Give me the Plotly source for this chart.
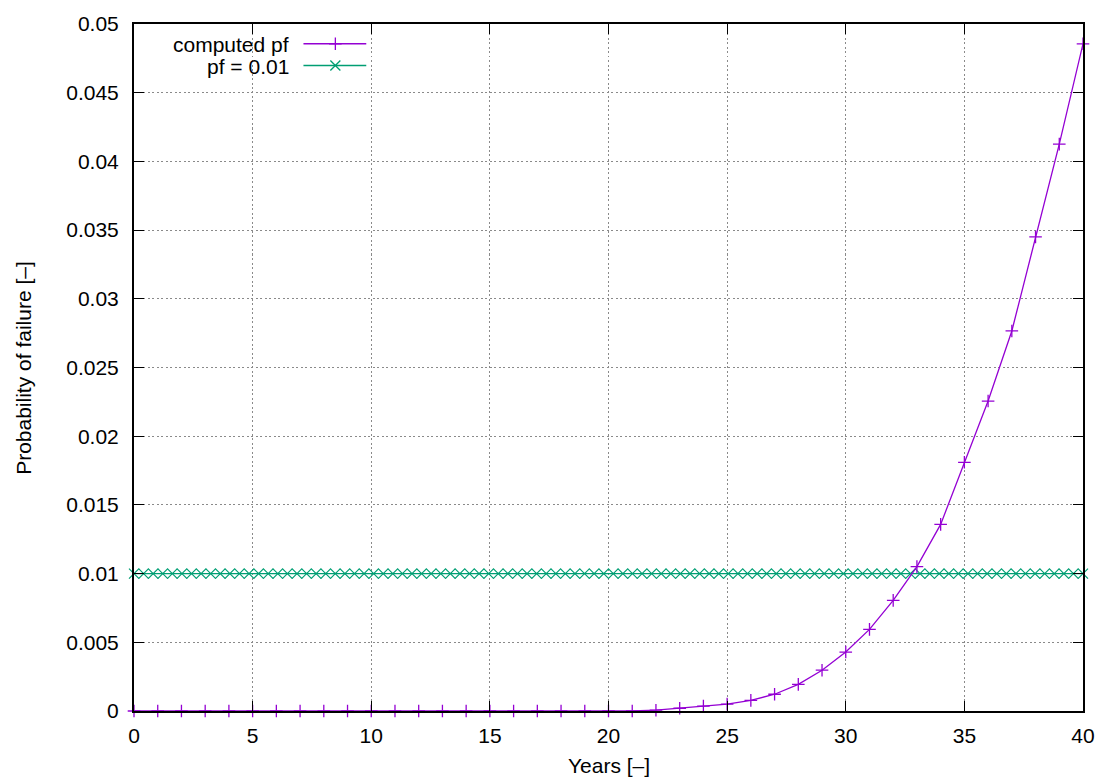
import plotly.graph_objects as go

# ---- data ----
years = list(range(0, 41))
computed_pf = [0.0] * 22 + [
    0.00006, 0.0002, 0.00036, 0.0005, 0.00077, 0.00122, 0.00194, 0.00297,
    0.00429, 0.00594, 0.00805, 0.01051, 0.01358, 0.0181, 0.02256, 0.02766,
    0.0345, 0.04126, 0.04856,
]
n_samples = 100
threshold_x = [40.0 * i / (n_samples - 1) for i in range(n_samples)]
threshold_pf = [0.01] * n_samples

x_ticks = [0, 5, 10, 15, 20, 25, 30, 35, 40]
y_ticks = [0, 0.005, 0.01, 0.015, 0.02, 0.025, 0.03, 0.035, 0.04, 0.045, 0.05]
y_ticktext = ["0", "0.005", "0.01", "0.015", "0.02", "0.025", "0.03",
              "0.035", "0.04", "0.045", "0.05"]

PURPLE = "#9400d3"
GREEN = "#009e73"
FONT = "Liberation Sans, Arial, sans-serif"
FS = 21

# layout geometry (pixels)
W, H = 1107, 780
L, R, T, B = 134, 21, 16, 69
PW, PH = W - L - R, H - T - B

fig = go.Figure()

fig.add_trace(go.Scatter(
    x=threshold_x, y=threshold_pf, mode="lines+markers", name="pf = 0.01",
    line=dict(color=GREEN, width=1.3),
    marker=dict(symbol="x-thin", size=10, color=GREEN,
                line=dict(color=GREEN, width=1.2)),
    cliponaxis=False, showlegend=False,
))
fig.add_trace(go.Scatter(
    x=years, y=computed_pf, mode="lines+markers", name="computed pf",
    line=dict(color=PURPLE, width=1.3),
    marker=dict(symbol="cross-thin", size=9, color=PURPLE,
                line=dict(color=PURPLE, width=1.3)),
    cliponaxis=False, showlegend=False,
))

# ---- manual gnuplot-style key (text left, sample right) on an overlay axis ----
def px_to_fx(px):
    return (px - L) / PW

def py_to_fy(py):
    return (H - B - py) / PH

legend_rows = [("computed pf", PURPLE, "cross-thin", 9, 36),
               ("pf = 0.01", GREEN, "x-thin", 10, 58)]
for label, col, sym, sz, py in legend_rows:
    fig.add_trace(go.Scatter(
        x=[px_to_fx(304), px_to_fx(367)], y=[py_to_fy(py)] * 2,
        mode="lines", line=dict(color=col, width=1.3),
        xaxis="x2", yaxis="y2", showlegend=False, hoverinfo="skip",
    ))
    fig.add_trace(go.Scatter(
        x=[px_to_fx(336)], y=[py_to_fy(py)], mode="markers",
        marker=dict(symbol=sym, size=sz, color=col, line=dict(color=col, width=1.3)),
        xaxis="x2", yaxis="y2", showlegend=False, hoverinfo="skip",
    ))
    fig.add_annotation(
        x=px_to_fx(291), y=py_to_fy(py + 1), xref="x2", yref="y2",
        text=label, showarrow=False, xanchor="right", yanchor="middle",
        font=dict(family=FONT, size=FS, color="black"),
    )

axis_common = dict(
    showline=True, linecolor="black", linewidth=2, mirror="ticks",
    ticks="inside", ticklen=10, tickwidth=1, tickcolor="black",
    showgrid=True, gridcolor="#8a8a8a", gridwidth=1, griddash="2px,2.5px",
    zeroline=False, tickfont=dict(family=FONT, size=FS, color="black"),
)

fig.update_layout(
    width=W, height=H,
    margin=dict(l=L, r=R, t=T, b=B, pad=0),
    paper_bgcolor="white", plot_bgcolor="white",
    showlegend=False,
    xaxis=dict(range=[0, 40], tickvals=x_ticks, ticktext=[str(v) for v in x_ticks],
               ticklabelstandoff=5, **axis_common),
    yaxis=dict(range=[0, 0.05], tickvals=y_ticks, ticktext=y_ticktext,
               ticklabelstandoff=9, **axis_common),
    xaxis2=dict(range=[0, 1], overlaying="x", anchor="y2", visible=False, fixedrange=True),
    yaxis2=dict(range=[0, 1], overlaying="y", anchor="x2", visible=False, fixedrange=True),
    font=dict(family=FONT, size=FS, color="black"),
)

fig.add_annotation(
    x=0.5, y=py_to_fy(766), xref="paper", yref="paper", text="Years [–]",
    showarrow=False, xanchor="center", yanchor="middle",
    font=dict(family=FONT, size=FS, color="black"),
)
fig.add_annotation(
    x=px_to_fx(23), y=0.5, xref="paper", yref="paper",
    text="Probability of failure [–]", textangle=-90,
    showarrow=False, xanchor="center", yanchor="middle",
    font=dict(family=FONT, size=FS, color="black"),
)

fig.write_html(
    "out.html",
    config={"displayModeBar": False},
    post_script="document.body.style.margin='0';document.body.style.overflow='hidden';",
)
